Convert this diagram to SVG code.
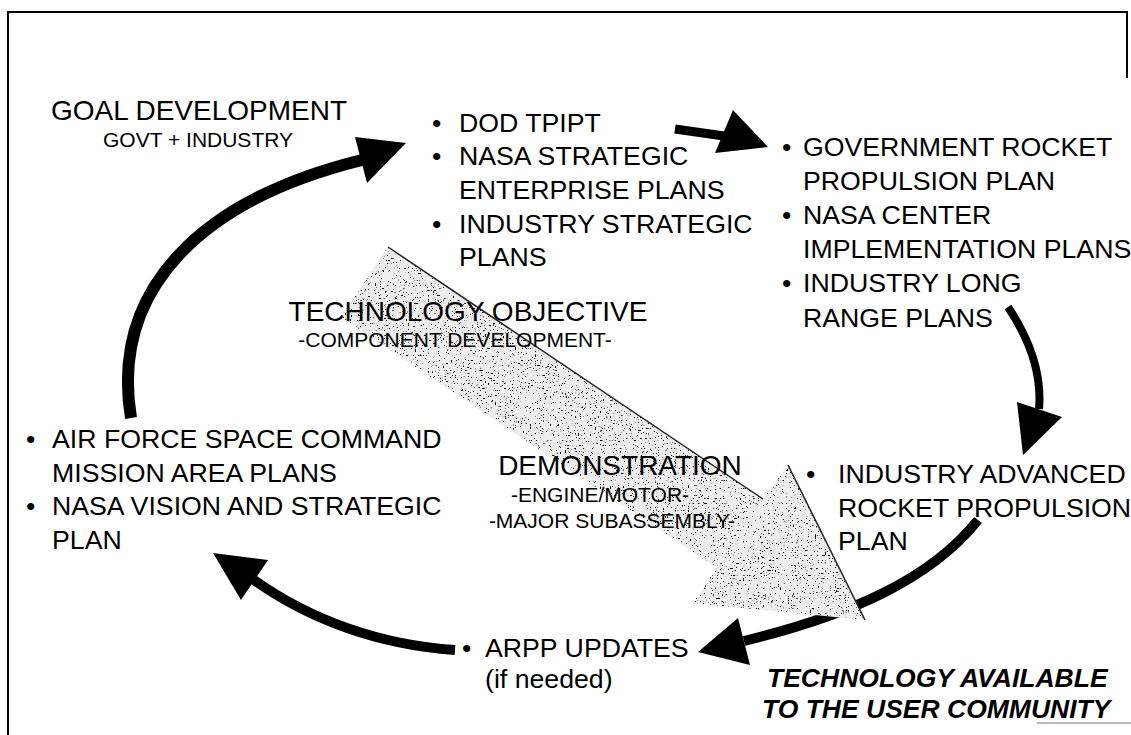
<svg xmlns="http://www.w3.org/2000/svg" width="1131" height="735" viewBox="0 0 1131 735">
<style>
.t{font-family:"Liberation Sans",Arial,sans-serif;fill:#000}
.f26{font-size:26.7px}
.f28{font-size:28px}
.f21{font-size:21px}
.bi{font-weight:bold;font-style:italic;font-size:26.5px}
.mid{text-anchor:middle}
.shaft{fill:none;stroke:#000;stroke-linecap:butt}
.head{fill:#000}
.frame{stroke:#000;stroke-width:2;fill:none}
</style>
<defs>
<filter id="speckle" x="0" y="0" width="1" height="1" filterUnits="objectBoundingBox" color-interpolation-filters="sRGB">
<feTurbulence type="fractalNoise" baseFrequency="0.6" numOctaves="3" seed="11" result="noise"/>
<feColorMatrix in="noise" type="matrix" values="0 0 0 0 0  0 0 0 0 0  0 0 0 0 0  -14 0 0 0 4.7" result="dots"/>
<feComposite in="dots" in2="SourceGraphic" operator="in" result="clipped"/>
<feMerge><feMergeNode in="SourceGraphic"/><feMergeNode in="clipped"/></feMerge>
</filter>
</defs>
<rect x="0" y="0" width="1131" height="735" fill="#fff"/>
<g id="frame">
<path class="frame" d="M8,735 V12 H1127 V78"/>
<line x1="1037" y1="723" x2="1131" y2="723" stroke="#bbb" stroke-width="2"/>
</g>
<g id="connectors">
<path class="shaft" stroke-width="12" d="M131,418 C110,290 200,200 362,160"/>
<polygon class="head" points="355,137 406,143 367,183"/>
<path class="shaft" stroke-width="9" d="M675,129 L724,136"/>
<polygon class="head" points="733,110 768,147 715,153"/>
<path class="shaft" stroke-width="8" d="M1008,307 C1030,340 1042,375 1039,409"/>
<polygon class="head" points="1017,402 1062,417 1023,455"/>
<path class="shaft" stroke-width="10" d="M978,520 C930,580 850,615 744,641"/>
<polygon class="head" points="738,618 698,652 750,665"/>
<path class="shaft" stroke-width="10" d="M455,650 C380,645 310,620 254,580"/>
<polygon class="head" points="213,553 268,560 241,600"/>
</g>
<g id="technology-arrow">
<polygon points="388,247 763,499 788,465 865,620 693,603 717,568 341,317" fill="#ededed" filter="url(#speckle)"/>
<polyline points="388,247 763,499" fill="none" stroke="#222" stroke-width="1.5"/>
<polyline points="788,465 865,620" fill="none" stroke="#222" stroke-width="1.5"/>
</g>
<g id="goal-development">
<text class="t f28 mid" x="199" y="120">GOAL DEVELOPMENT</text>
<text class="t f21 mid" x="198" y="147">GOVT + INDUSTRY</text>
</g>
<g id="strategic-plans">
<text class="t f26" x="432" y="132">•</text>
<text class="t f26" x="459" y="132">DOD TPIPT</text>
<text class="t f26" x="432" y="165">•</text>
<text class="t f26" x="459" y="165">NASA STRATEGIC</text>
<text class="t f26" x="459" y="199">ENTERPRISE PLANS</text>
<text class="t f26" x="432" y="233">•</text>
<text class="t f26" x="459" y="233">INDUSTRY STRATEGIC</text>
<text class="t f26" x="459" y="266">PLANS</text>
</g>
<g id="implementation-plans">
<text class="t f26" x="782" y="156">•</text>
<text class="t f26" x="803" y="156">GOVERNMENT ROCKET</text>
<text class="t f26" x="803" y="190">PROPULSION PLAN</text>
<text class="t f26" x="782" y="224">•</text>
<text class="t f26" x="803" y="224">NASA CENTER</text>
<text class="t f26" x="803" y="258">IMPLEMENTATION PLANS</text>
<text class="t f26" x="782" y="292">•</text>
<text class="t f26" x="803" y="292">INDUSTRY LONG</text>
<text class="t f26" x="803" y="327">RANGE PLANS</text>
</g>
<g id="industry-advanced">
<text class="t f26" x="806" y="483">•</text>
<text class="t f26" x="838" y="483">INDUSTRY ADVANCED</text>
<text class="t f26" x="838" y="517">ROCKET PROPULSION</text>
<text class="t f26" x="838" y="550">PLAN</text>
</g>
<g id="arpp-updates">
<text class="t f26" x="462" y="657">•</text>
<text class="t f26" x="485" y="657">ARPP UPDATES</text>
<text class="t f26" x="485" y="688">(if needed)</text>
</g>
<g id="mission-plans">
<text class="t f26" x="26" y="448">•</text>
<text class="t f26" x="52" y="448">AIR FORCE SPACE COMMAND</text>
<text class="t f26" x="52" y="482">MISSION AREA PLANS</text>
<text class="t f26" x="26" y="515">•</text>
<text class="t f26" x="52" y="515">NASA VISION AND STRATEGIC</text>
<text class="t f26" x="52" y="549">PLAN</text>
</g>
<g id="technology-objective">
<text class="t f28 mid" x="468" y="321">TECHNOLOGY OBJECTIVE</text>
<text class="t f21 mid" x="455" y="347">-COMPONENT DEVELOPMENT-</text>
</g>
<g id="demonstration">
<text class="t f28 mid" x="620" y="475">DEMONSTRATION</text>
<text class="t f21 mid" x="600" y="502">-ENGINE/MOTOR-</text>
<text class="t f21 mid" x="612" y="528">-MAJOR SUBASSEMBLY-</text>
</g>
<g id="technology-available">
<text class="t bi" x="767" y="687">TECHNOLOGY AVAILABLE</text>
<text class="t bi" x="762" y="718">TO THE USER COMMUNITY</text>
</g>
</svg>
